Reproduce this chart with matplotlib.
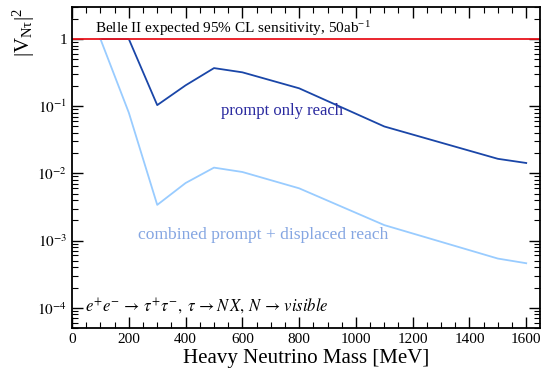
import numpy as np
import matplotlib
matplotlib.use("Agg")
import matplotlib.pyplot as plt
from matplotlib.ticker import LogLocator, MultipleLocator, FixedFormatter, FixedLocator

plt.rcParams['font.family'] = ['Liberation Serif', 'DejaVu Serif']
plt.rcParams['mathtext.fontset'] = 'stix'

# reach curves
mass_prompt = [100, 200, 300, 400, 500, 600, 800, 1100, 1500, 1600]
v2_prompt = [1.0, 1.0, 0.104, 0.205, 0.37, 0.32, 0.185, 0.050, 0.0165, 0.0143]

mass_comb = [100, 200, 300, 400, 500, 600, 800, 1100, 1500, 1600]
v2_comb = [1.0, 0.08, 0.0034, 0.0072, 0.0122, 0.0105, 0.0060, 0.0017, 0.00054, 0.00046]

belle_limit = 1.0

ytick_vals = [1e-4, 1e-3, 1e-2, 1e-1, 1]
ytick_labels = [r'$10^{-4}$', r'$10^{-3}$', r'$10^{-2}$', r'$10^{-1}$', '1']

fig = plt.figure(figsize=(5.42, 3.71), dpi=100)
ax = fig.add_axes([0.133, 0.116, 0.863, 0.865])

ax.plot(mass_prompt, v2_prompt, color='#1a46a8', lw=1.3)
ax.plot(mass_comb, v2_comb, color='#99ccff', lw=1.3)
ax.axhline(belle_limit, color='#e8141c', lw=1.3)

ax.set_yscale('log')
ax.set_xlim(0, 1648)
ax.set_ylim(5e-5, 3.0)

ax.xaxis.set_major_locator(MultipleLocator(200))
ax.xaxis.set_minor_locator(MultipleLocator(50))
ax.yaxis.set_major_locator(FixedLocator(ytick_vals))
ax.yaxis.set_major_formatter(FixedFormatter(ytick_labels))
ax.yaxis.set_minor_locator(LogLocator(base=10, subs=np.arange(2, 10)))
ax.yaxis.set_minor_formatter(plt.NullFormatter())

ax.tick_params(which='both', direction='in', top=True, right=True, labelsize=11)
ax.tick_params(which='major', length=8, width=1.0)
ax.tick_params(which='minor', length=4, width=0.8)
for s in ax.spines.values():
    s.set_linewidth(1.3)

ax.set_xlabel('Heavy Neutrino Mass [MeV]', fontsize=15, labelpad=2)
ax.set_ylabel(r'$\mathregular{|V_{N\tau}|^{2}}$', fontsize=15)
ax.yaxis.set_label_coords(-0.075, 0.92)

ax.text(82, 1.45, r'Belle II expected 95% CL sensitivity, 50ab$^{\mathregular{-1}}$',
        fontsize=11, ha='left', va='center')
ax.text(740, 0.085, 'prompt only reach', color='#2b2ba0', fontsize=12,
        ha='center', va='center')
ax.text(675, 0.0012, 'combined prompt + displaced reach', color='#85a6e2',
        fontsize=12.6, ha='center', va='center')
ax.text(45, 1.05e-4,
        r'$e^{+}e^{-}\,\rightarrow\,\tau^{+}\tau^{-},\ \tau\,\rightarrow N\,X,\, N\,\rightarrow\,\mathit{visible}$',
        fontsize=12, ha='left', va='center')

fig.savefig('out.png', dpi=100)
